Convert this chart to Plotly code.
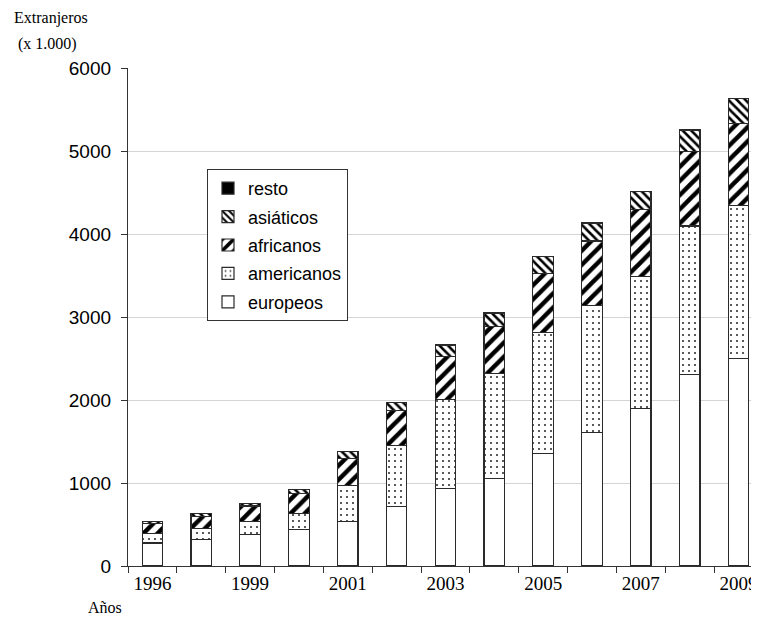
import plotly.graph_objects as go

years = ["1996", "1998", "1999", "2000", "2001", "2002", "2003",
         "2004", "2005", "2006", "2007", "2008", "2009"]
tick_labels = ["1996", "1999", "2001", "2003", "2005", "2007", "2009"]

europeos   = [276, 316, 384, 444, 532, 720, 936, 1056, 1356, 1612, 1896, 2312, 2496]
americanos = [120, 140, 148, 192, 440, 736, 1074, 1260, 1460, 1524, 1588, 1784, 1848]
africanos  = [120, 144, 192, 240, 324, 420, 514, 568, 708, 780, 808, 900, 992]
asiaticos  = [22, 34, 26, 46, 82, 94, 138, 162, 206, 214, 218, 258, 294]
resto      = [2, 2, 2, 2, 2, 2, 2, 2, 2, 2, 2, 2, 2]

xpos = list(range(len(years)))
tickpos = [xpos[years.index(t)] for t in tick_labels]

series = [
    ("europeos", europeos, "", 8, 0.1, "black"),
    ("americanos", americanos, ".", 6, 0.1, "#333333"),
    ("africanos", africanos, "/", 10, 0.45, "black"),
    ("asiáticos", asiaticos, "\\", 6, 0.42, "black"),
    ("resto", resto, "", 8, 0.1, "black"),
]

fig = go.Figure()
for i, (name, vals, shape, size, sol, fg) in enumerate(series):
    color = "black" if name == "resto" else "white"
    fig.add_trace(go.Bar(
        name=name, x=xpos, y=vals, width=0.42,
        legendgroup="g%d" % i, legendrank=len(series) - i,
        marker=dict(
            color=color,
            line=dict(color="#2a2a2a", width=1.2),
            pattern=dict(shape=shape, size=size, solidity=sol,
                         fgcolor=fg, bgcolor=color, fgopacity=1,
                         fillmode="overlay"),
        ),
    ))

fig.update_layout(
    width=751, height=611,
    barmode="stack",
    plot_bgcolor="white", paper_bgcolor="white",
    margin=dict(l=120, r=0, t=60, b=53),
    font=dict(family="Liberation Sans, Arial, sans-serif", color="black"),
    showlegend=True,
    legend=dict(
        x=(207 - 128) / 631, y=(566 - 169) / 498, xanchor="left", yanchor="top",
        bgcolor="white", bordercolor="#333333", borderwidth=1,
        font=dict(size=18, family="Liberation Sans, Arial, sans-serif", color="black"),
        traceorder="grouped", tracegroupgap=2,
    ),
    xaxis=dict(
        range=[-0.5, 12.42],
        tickmode="array", tickvals=tickpos, ticktext=tick_labels,
        ticks="", showgrid=False, zeroline=False,
        showline=True, linecolor="#333333", linewidth=1.3,
        ticklabeloverflow="allow",
        tickfont=dict(family="Liberation Serif, Times New Roman, serif", size=19, color="black"),
        minor=dict(tickmode="array", tickvals=[v - 0.5 for v in xpos] + [12.5],
                   ticks="outside", ticklen=6, tickcolor="#333333", tickwidth=1.3,
                   showgrid=False),
    ),
    yaxis=dict(
        range=[0, 6000], tickmode="linear", tick0=0, dtick=1000,
        showgrid=True, gridcolor="#d4d4d4", gridwidth=1,
        zeroline=False,
        showline=True, linecolor="#333333", linewidth=1.3,
        ticks="outside", ticklen=6, tickcolor="#333333", tickwidth=1.3,
        ticklabelstandoff=6,
        tickfont=dict(family="Liberation Sans, Arial, sans-serif", size=19, color="black"),
    ),
)

serif = dict(family="Liberation Serif, Times New Roman, serif", size=16, color="black")
fig.add_annotation(text="Extranjeros", xref="paper", yref="paper",
                   x=-0.1838, y=1.1004, xanchor="left", yanchor="middle",
                   showarrow=False, font=serif)
fig.add_annotation(text="(x 1.000)", xref="paper", yref="paper",
                   x=-0.1775, y=1.0482, xanchor="left", yanchor="middle",
                   showarrow=False, font=serif)
fig.add_annotation(text="Años", xref="paper", yref="paper",
                   x=-0.0666, y=-0.0843, xanchor="left", yanchor="middle",
                   showarrow=False, font=serif)

fig.write_html("out.html")
